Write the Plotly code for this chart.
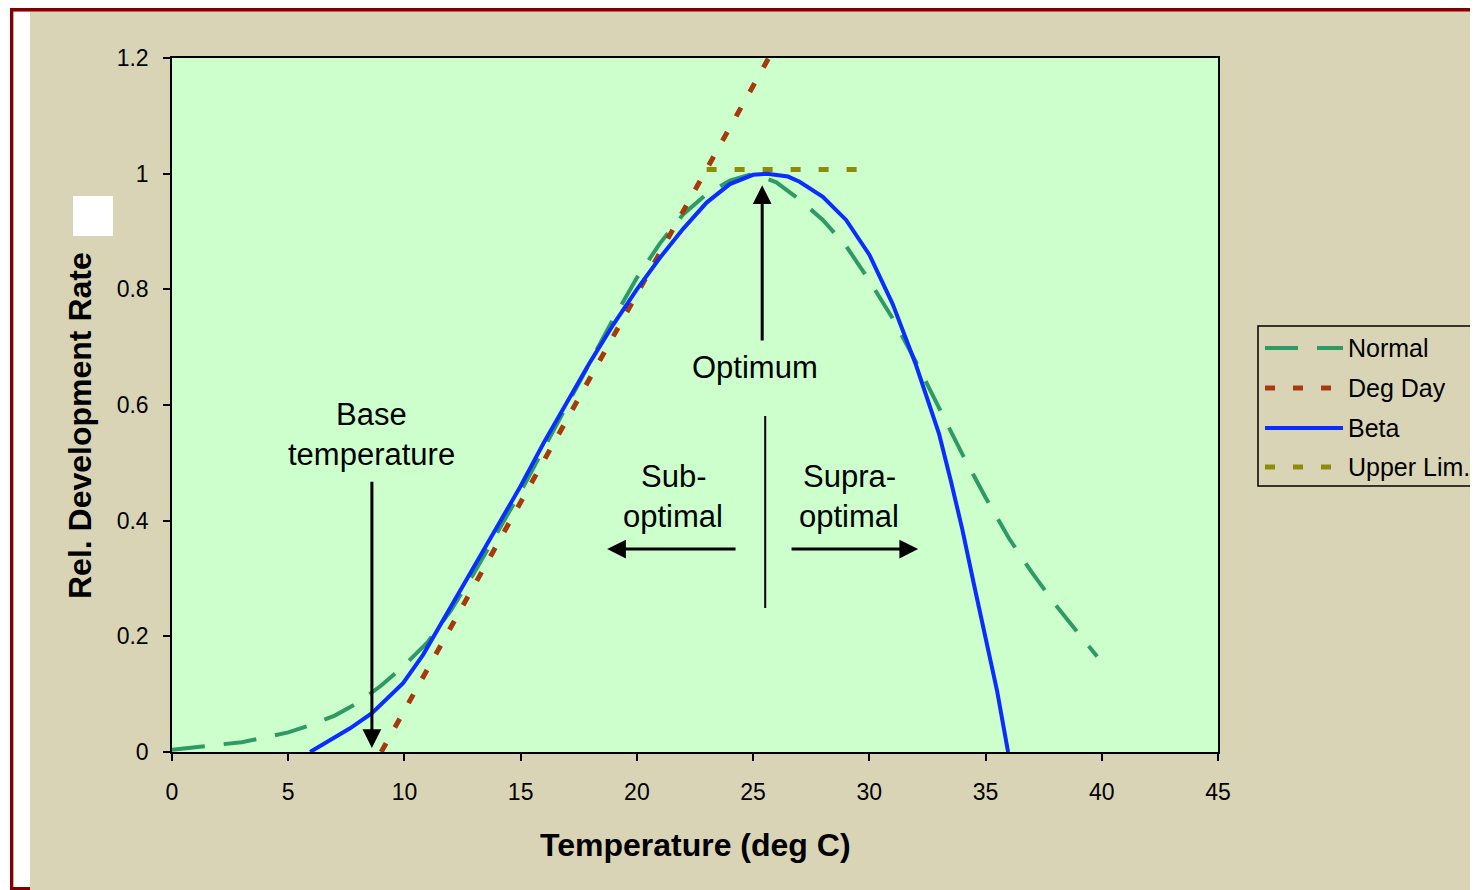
import plotly.graph_objects as go

# ---------------- data ----------------
series_names = ["Normal", "Deg Day", "Beta", "Upper Lim."]
series_colors = ["#2E9A66", "#A63A0C", "#0A2EFF", "#8C8C0A"]

temp_normal = [0, 1, 2, 3, 4, 5, 6, 7, 8, 9, 10, 11, 12, 13, 14, 15, 16, 17, 18, 19, 20,
               21, 22, 23, 24, 25, 26, 27, 28, 29, 30, 31, 32, 33, 34, 35, 36, 37, 38, 39, 39.8]
rate_normal = [0.004, 0.008, 0.012, 0.017, 0.025, 0.034, 0.047, 0.063, 0.085, 0.115, 0.15,
               0.19, 0.245, 0.31, 0.38, 0.45, 0.525, 0.60, 0.675, 0.75, 0.82,
               0.88, 0.93, 0.965, 0.988, 1.0, 0.985, 0.955, 0.92, 0.875, 0.815,
               0.75, 0.675, 0.595, 0.515, 0.44, 0.37, 0.31, 0.255, 0.205, 0.165]

temp_beta = [5.94, 6.8, 7.66, 8.6, 9.94, 10.8, 11.66, 13, 14, 15, 16, 17, 18, 19, 20,
             21, 22, 23, 24, 25, 25.6, 26.5, 27, 28, 29, 30, 31, 32, 33, 33.5, 34,
             34.5, 35, 35.5, 35.97]
rate_beta = [0.0, 0.021, 0.041, 0.067, 0.119, 0.168, 0.228, 0.32, 0.39, 0.46, 0.535,
             0.605, 0.675, 0.74, 0.80, 0.855, 0.905, 0.95, 0.982, 0.998, 1.0, 0.995,
             0.986, 0.96, 0.92, 0.86, 0.775, 0.67, 0.55, 0.47, 0.385, 0.29, 0.2, 0.105, 0.0]

temp_degday = [9.0, 25.67]
rate_degday = [0.0, 1.2]

temp_upper = [23.0, 29.5]
rate_upper = [1.007, 1.007]

x_tick_vals = [0, 5, 10, 15, 20, 25, 30, 35, 40, 45]
y_tick_vals = [0, 0.2, 0.4, 0.6, 0.8, 1.0, 1.2]
y_tick_text = ["0", "0.2", "0.4", "0.6", "0.8", "1", "1.2"]

# ---------------- geometry helpers (reference pixel -> paper) ----------------
PAGE_OFFSET = 8                      # default body margin of the html page
W, H = 1478 - PAGE_OFFSET, 890 - PAGE_OFFSET
L, R, T, B = 172, 1218, 58, 752      # plot area in window pixels
FONT = "Liberation Sans, Arial, sans-serif"


def px(x):
    return (x - L) / (R - L)


def py(y):
    return (B - y) / (B - T)


fig = go.Figure()

dashes = ["33px,19px", "10px,18px", "solid", "10px,18px"]
widths = [4, 5, 4, 5]
xs = [temp_normal, temp_degday, temp_beta, temp_upper]
ys = [rate_normal, rate_degday, rate_beta, rate_upper]
order = [0, 1, 3, 2]
for i in order:
    fig.add_trace(go.Scatter(
        x=xs[i], y=ys[i], mode="lines", name=series_names[i],
        line=dict(color=series_colors[i], width=widths[i], dash=dashes[i]),
        showlegend=False, hoverinfo="skip"))

shapes = []
# white outer strip (left)
shapes.append(dict(type="rect", xref="paper", yref="paper", x0=px(0), x1=px(10), y0=py(0), y1=py(900),
                   fillcolor="white", line_width=0, layer="above"))
# white inner strip on left
shapes.append(dict(type="rect", xref="paper", yref="paper", x0=px(13.3), x1=px(30), y0=py(11.5), y1=py(887),
                   fillcolor="white", line_width=0, layer="above"))
# dark red frame pieces
shapes.append(dict(type="rect", xref="paper", yref="paper", x0=px(10), x1=px(1500), y0=py(7), y1=py(11.5),
                   fillcolor="#800000", line_width=0, layer="above"))
shapes.append(dict(type="rect", xref="paper", yref="paper", x0=px(10), x1=px(13.3), y0=py(7), y1=py(900),
                   fillcolor="#800000", line_width=0, layer="above"))
shapes.append(dict(type="rect", xref="paper", yref="paper", x0=px(10), x1=px(30), y0=py(887), y1=py(900),
                   fillcolor="#800000", line_width=0, layer="above"))
# white square left of y title
shapes.append(dict(type="rect", xref="paper", yref="paper", x0=px(73), x1=px(113), y0=py(196), y1=py(236),
                   fillcolor="white", line_width=0, layer="above"))
# vertical divider at optimum
shapes.append(dict(type="line", xref="x", yref="y", x0=25.52, x1=25.52, y0=0.249, y1=0.581,
                   line=dict(color="black", width=2)))
# legend box
shapes.append(dict(type="rect", xref="paper", yref="paper", x0=px(1258), x1=px(1520), y0=py(326), y1=py(486),
                   fillcolor="rgba(0,0,0,0)", line=dict(color="black", width=1.5), layer="above"))
leg_y = [348, 388, 428, 467]
annotations = []
for i, name in enumerate(series_names):
    shapes.append(dict(type="line", xref="paper", yref="paper", x0=px(1265), x1=px(1343),
                       y0=py(leg_y[i]), y1=py(leg_y[i]),
                       line=dict(color=series_colors[i], width=widths[i], dash=dashes[i]), layer="above"))
    annotations.append(dict(text=name, xref="paper", yref="paper", x=px(1346), y=py(leg_y[i]),
                            xanchor="left", yanchor="middle", showarrow=False,
                            font=dict(family=FONT, size=25, color="black")))

# axis titles
annotations.append(dict(text="<b>Temperature (deg C)</b>", xref="paper", yref="paper", x=px(695), y=py(845),
                        xanchor="center", yanchor="middle", showarrow=False,
                        font=dict(family=FONT, size=32, color="black")))
annotations.append(dict(text="<b>Rel. Development Rate</b>", xref="paper", yref="paper", x=px(80), y=py(426),
                        xanchor="center", yanchor="middle", showarrow=False, textangle=-90,
                        font=dict(family=FONT, size=32, color="black")))

# text labels in plot
txt = [("Base", 8.6, 0.584), ("temperature", 8.6, 0.515), ("Optimum", 25.09, 0.664),
       ("Sub-", 21.56, 0.477), ("optimal", 21.56, 0.408),
       ("Supra-", 29.13, 0.477), ("optimal", 29.13, 0.408)]
for t, x, y in txt:
    annotations.append(dict(text=t, xref="x", yref="y", x=x, y=y, showarrow=False,
                            xanchor="center", yanchor="middle",
                            font=dict(family=FONT, size=31, color="black")))

# arrows (tip at x,y ; tail at ax,ay)
arrows = [(8.6, 0.007, 8.6, 0.47), (25.39, 0.98, 25.39, 0.709),
          (18.72, 0.351, 24.31, 0.351), (32.1, 0.351, 26.59, 0.351)]
for x, y, ax, ay in arrows:
    annotations.append(dict(text="", xref="x", yref="y", axref="x", ayref="y", x=x, y=y, ax=ax, ay=ay,
                            showarrow=True, arrowhead=2, arrowsize=1.25, arrowwidth=3, arrowcolor="black",
                            standoff=0, startstandoff=0))

fig.update_layout(
    width=W, height=H,
    margin=dict(l=L - PAGE_OFFSET, r=W - (R - PAGE_OFFSET), t=T - PAGE_OFFSET, b=H - (B - PAGE_OFFSET), pad=0),
    paper_bgcolor="#DAD4B6",
    plot_bgcolor="#CCFFCC",
    shapes=shapes,
    annotations=annotations,
    showlegend=False,
    font=dict(family=FONT, color="black"),
)
fig.update_xaxes(range=[0, 45], tickvals=x_tick_vals, ticks="outside", ticklen=7, tickwidth=1.5,
                 tickcolor="black", showline=True, linecolor="black", linewidth=1.5, mirror=True,
                 showgrid=False, zeroline=False, tickfont=dict(family=FONT, size=23, color="black"),
                 ticklabelstandoff=12)
fig.update_yaxes(range=[0, 1.2], tickvals=y_tick_vals, ticktext=y_tick_text, ticks="outside", ticklen=7,
                 tickwidth=1.5, tickcolor="black", showline=True, linecolor="black", linewidth=1.5,
                 mirror=True, showgrid=False, zeroline=False,
                 tickfont=dict(family=FONT, size=23, color="black"), ticklabelstandoff=10)

fig.write_html("out.html")
